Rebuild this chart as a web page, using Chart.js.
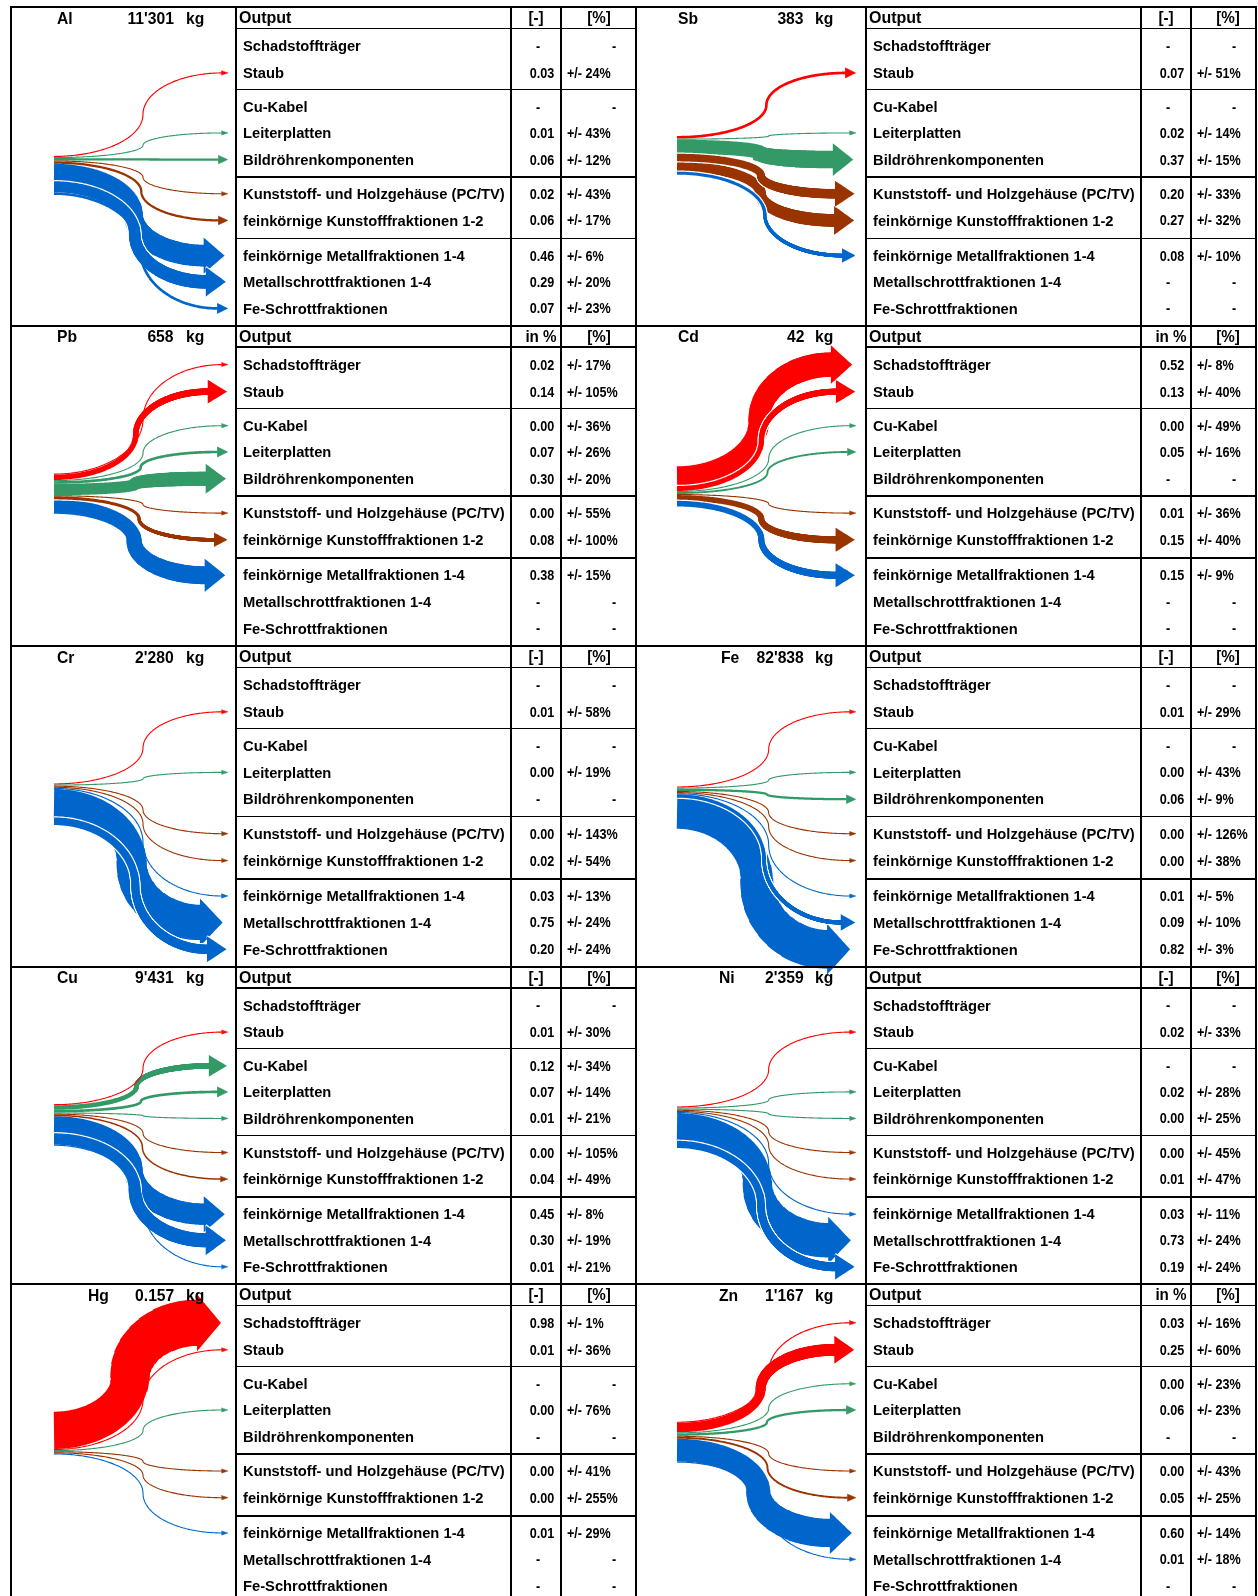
<!DOCTYPE html>
<html lang="de">
<head>
<meta charset="utf-8">
<title>Transferkoeffizienten – Stoffflüsse</title>
<script src="https://cdn.jsdelivr.net/npm/chart.js@4.4.1/dist/chart.umd.min.js"></script>
<style>
  html, body { margin: 0; padding: 0; background: #fff; }
  #sheet { position: relative; width: 1258px; height: 1596px; overflow: hidden; background: #fff; }
  #flows { position: absolute; left: 0; top: 0; }
  .t { position: absolute; white-space: nowrap; font-family: "Liberation Sans", Arial, Helvetica, sans-serif;
       font-weight: bold; color: #000; line-height: 1; }
  .rule { position: absolute; background: #000; }
</style>
</head>
<body>
<div id="sheet"><canvas id="flows" width="1258" height="1596"></canvas></div>
<script>
const PAGE_W = 1258, PAGE_H = 1596;

// ---------- outputs (table rows) and their product groups ----------
const outputs = [
  'Schadstoffträger', 'Staub',
  'Cu-Kabel', 'Leiterplatten', 'Bildröhrenkomponenten',
  'Kunststoff- und Holzgehäuse (PC/TV)', 'feinkörnige Kunstofffraktionen 1-2',
  'feinkörnige Metallfraktionen 1-4', 'Metallschrottfraktionen 1-4', 'Fe-Schrottfraktionen'
];
const outputGroup = [0, 0, 1, 1, 1, 2, 2, 3, 3, 3];
const groupColors = ['#ff0000', '#339966', '#993300', '#0066cc'];

// ---------- elements ----------
const elements    = ['Al', 'Sb', 'Pb', 'Cd', 'Cr', 'Fe', 'Cu', 'Ni', 'Hg', 'Zn'];
const inputKg     = ["11'301", '383', '658', '42', "2'280", "82'838", "9'431", "2'359", '0.157', "1'167"];
const shareHeader = ['[-]', '[-]', 'in %', 'in %', '[-]', '[-]', '[-]', '[-]', '[-]', 'in %'];

// transfer coefficients (null = no flow) and uncertainties in %
const tcAl = [null, 0.03, null, 0.01, 0.06, 0.02, 0.06, 0.46, 0.29, 0.07];
const uAl  = [null, 24,   null, 43,   12,   43,   17,   6,    20,   23];
const tcSb = [null, 0.07, null, 0.02, 0.37, 0.20, 0.27, 0.08, null, null];
const uSb  = [null, 51,   null, 14,   15,   33,   32,   10,   null, null];
const tcPb = [0.02, 0.14, 0.00, 0.07, 0.30, 0.00, 0.08, 0.38, null, null];
const uPb  = [17,   105,  36,   26,   20,   55,   100,  15,   null, null];
const tcCd = [0.52, 0.13, 0.00, 0.05, null, 0.01, 0.15, 0.15, null, null];
const uCd  = [8,    40,   49,   16,   null, 36,   40,   9,    null, null];
const tcCr = [null, 0.01, null, 0.00, null, 0.00, 0.02, 0.03, 0.75, 0.20];
const uCr  = [null, 58,   null, 19,   null, 143,  54,   13,   24,   24];
const tcFe = [null, 0.01, null, 0.00, 0.06, 0.00, 0.00, 0.01, 0.09, 0.82];
const uFe  = [null, 29,   null, 43,   9,    126,  38,   5,    10,   3];
const tcCu = [null, 0.01, 0.12, 0.07, 0.01, 0.00, 0.04, 0.45, 0.30, 0.01];
const uCu  = [null, 30,   34,   14,   21,   105,  49,   8,    19,   21];
const tcNi = [null, 0.02, null, 0.02, 0.00, 0.00, 0.01, 0.03, 0.73, 0.19];
const uNi  = [null, 33,   null, 28,   25,   45,   47,   11,   24,   24];
const tcHg = [0.98, 0.01, null, 0.00, null, 0.00, 0.00, 0.01, null, null];
const uHg  = [1,    36,   null, 76,   null, 41,   255,  29,   null, null];
const tcZn = [0.03, 0.25, 0.00, 0.06, null, 0.00, 0.05, 0.60, 0.01, null];
const uZn  = [16,   60,   23,   23,   null, 43,   25,   14,   18,   null];

const transfer    = [tcAl, tcSb, tcPb, tcCd, tcCr, tcFe, tcCu, tcNi, tcHg, tcZn];
const uncertainty = [uAl,  uSb,  uPb,  uCd,  uCr,  uFe,  uCu,  uNi,  uHg,  uZn];

// ---------- sheet layout ----------
const panelTop  = [7.3, 325.7, 645.7, 966.7, 1284];
const panelH    = [318.4, 320, 321, 317.3, 319.3];
const NOMINAL_H = 319.3;
const colX = [[11, 236, 511, 561, 636], [636, 866, 1141, 1191, 1256]];
const rowY  = [38.8, 65.8, 99.8, 126, 152.7, 187, 213.7, 249, 275.3, 302];
const ruleY = [21.5, 82.5, 170, 232];
const HEAD_Y = 11;
const symbolX  = [45.7, 41.7, 45.7, 41.7, 45.7, 84.7, 45.7, 83, 76.7, 83.3];
const massRight = [163, 168], kgLeft = [174.7, 179];
const stackTop = [149, 129, 147.6, 140.3, 137, 140, 138.3, 140.6, 127.7, 137.7];
const FLOW_SCALE = 38, MIN_W = 1.1;
const srcX = [43, 41], tipX = [217, 220];
// arrows widen towards the head in small steps: [fraction of path, width factor]
const TAPER = [];
for (let s = 1; s <= 8; s++) TAPER.push([0.44 + 0.055 * (s - 1), 1 + 0.03 * s]);
const END_FACTOR = TAPER[TAPER.length - 1][1];

function panelFrame(p) {
  const side = p % 2, row = Math.floor(p / 2);
  const k = panelH[row] / NOMINAL_H;
  return { side, cols: colX[side], top: panelTop[row], y: rel => panelTop[row] + rel * k };
}

// ---------- flow geometry: two quarter-ellipses forming an S ----------
function sCurve(x0, y0, xe, ye, n) {
  const xm = x0 + 0.53 * (xe - x0), ym = (y0 + ye) / 2;
  const pts = [];
  for (let i = 0; i <= n; i++) {
    const t = (i / n) * Math.PI / 2;
    pts.push({ x: x0 + (xm - x0) * Math.sin(t), y: y0 + (ym - y0) * (1 - Math.cos(t)) });
  }
  for (let i = 1; i <= n; i++) {
    const t = (i / n) * Math.PI / 2;
    pts.push({ x: xm + (xe - xm) * (1 - Math.cos(t)), y: ym + (ye - ym) * Math.sin(t) });
  }
  return pts;
}

const flows = [];
transfer.forEach((tc, p) => {
  const f = panelFrame(p);
  const x0 = f.cols[0] + srcX[f.side];
  let cursor = f.y(stackTop[p]);
  tc.forEach((v, j) => {
    if (v === null) return;
    const w = Math.max(v * FLOW_SCALE, MIN_W);
    const thick = w >= 3;
    const wEnd = thick ? w * END_FACTOR : w;
    const y0 = cursor + w / 2;
    cursor += w;
    const ye = f.y(rowY[j]);
    const ramp = Math.min(1, wEnd / 6);
    const tip = f.cols[0] + tipX[f.side] - 0.15 * wEnd;
    const headL = 3.5 + 15 * ramp + 0.12 * wEnd;
    const headH = 0.85 * wEnd + 18 * ramp;
    const xe = tip - headL;
    const path = sCurve(x0, y0, xe + 0.5, ye, 40);
    const pieces = [{ data: path, width: w }];
    if (thick) TAPER.forEach(([fr, s]) => pieces.push({ data: path.slice(Math.floor(fr * (path.length - 1))), width: w * s }));
    flows.push({
      w, thick, color: groupColors[outputGroup[j]], pieces,
      head: [{ x: xe, y: ye - headH / 2 }, { x: tip, y: ye }, { x: xe, y: ye + headH / 2 }]
    });
  });
});

// thick flows first, thin ones on top
flows.sort((a, b) => b.w - a.w);
const datasets = [];
let order = flows.length * 24 + 10;
const stroke = (data, color, width) => ({
  data, borderColor: color, borderWidth: width, borderCapStyle: 'butt',
  borderJoinStyle: 'miter', fill: false, order: order--
});
flows.forEach(fl => {
  if (fl.thick) {
    fl.pieces.forEach(pc => datasets.push(stroke(pc.data, '#fff', pc.width + 2.4)));
    datasets.push({ data: fl.head, borderColor: '#fff', backgroundColor: '#fff', borderWidth: 2.4,
      borderJoinStyle: 'miter', fill: 'shape', order: order-- });
  }
  fl.pieces.forEach(pc => datasets.push(stroke(pc.data, fl.color, pc.width)));
  datasets.push({ data: fl.head, borderColor: fl.color, backgroundColor: fl.color,
    borderWidth: fl.thick ? 0 : 0.6, borderJoinStyle: 'miter', fill: 'shape', order: order-- });
});

new Chart(document.getElementById('flows'), {
  type: 'line',
  data: { datasets },
  options: {
    responsive: false,
    animation: false,
    events: [],
    clip: false,
    layout: { padding: 0, autoPadding: false },
    elements: { point: { radius: 0, hoverRadius: 0 }, line: { tension: 0.0001 } },
    scales: {
      x: { type: 'linear', min: 0, max: PAGE_W, display: false },
      y: { type: 'linear', min: 0, max: PAGE_H, reverse: true, display: false }
    },
    plugins: { legend: { display: false }, tooltip: { enabled: false } }
  }
});

// ---------- table: rules and text ----------
const sheet = document.getElementById('sheet');
function put(str, x, y, size, align, sx) {
  const d = document.createElement('div');
  d.className = 't';
  d.textContent = str;
  d.style.fontSize = size + 'px';
  d.style.top = (y - size / 2) + 'px';
  if (align === 'left') {
    d.style.left = x + 'px'; d.style.transformOrigin = '0 50%'; d.style.transform = `scaleX(${sx})`;
  } else if (align === 'right') {
    d.style.right = (PAGE_W - x) + 'px'; d.style.transformOrigin = '100% 50%'; d.style.transform = `scaleX(${sx})`;
  } else {
    d.style.left = x + 'px'; d.style.transform = `translateX(-50%) scaleX(${sx})`;
  }
  sheet.appendChild(d);
}
function rule(x, y, w, h) {
  const d = document.createElement('div');
  d.className = 'rule';
  Object.assign(d.style, { left: x + 'px', top: y + 'px', width: w + 'px', height: h + 'px' });
  sheet.appendChild(d);
}

const FRAME = 2, THIN = 1.5;
[11, 236, 636, 866, 1256].forEach(x => rule(x - FRAME / 2, panelTop[0] - FRAME / 2, FRAME, PAGE_H));
[511, 561, 1141, 1191].forEach(x => rule(x - THIN / 2, panelTop[0], THIN, PAGE_H));
panelTop.forEach(t => rule(10, t - FRAME / 2, 1256 - 11 + 2, FRAME));

elements.forEach((el, p) => {
  const f = panelFrame(p);
  const c = f.cols;
  ruleY.forEach(r => rule(c[1], f.y(r) - THIN / 2, c[4] - c[1], THIN));

  const hy = f.y(HEAD_Y);
  put(el, c[0] + symbolX[p], hy, 16.5, 'left', 0.95);
  put(inputKg[p], c[0] + massRight[f.side], hy, 16.5, 'right', 0.95);
  put('kg', c[0] + kgLeft[f.side], hy, 16.5, 'left', 0.95);
  put('Output', c[1] + 3, hy, 16, 'left', 1);
  put(shareHeader[p], (c[2] + c[3]) / 2 + (shareHeader[p] === 'in %' ? 5 : 0), hy, 16, 'center', 0.95);
  put('[%]', (c[3] + c[4]) / 2 + (f.side ? 4.5 : 0), hy, 16, 'center', 0.95);

  outputs.forEach((name, j) => {
    const y = f.y(rowY[j]);
    put(name, c[1] + 7, y, 15.5, 'left', 0.95);
    const v = transfer[p][j], u = uncertainty[p][j];
    if (v === null) put('-', c[2] + 27.3, y, 14, 'center', 0.9);
    else put(v.toFixed(2), c[3] - 6.5, y, 14, 'right', 0.9);
    if (u === null) put('-', c[4] - 22.5, y, 14, 'center', 0.9);
    else put('+/- ' + u + '%', c[3] + 5.7, y, 14, 'left', 0.9);
  });
});
</script>
</body>
</html>
